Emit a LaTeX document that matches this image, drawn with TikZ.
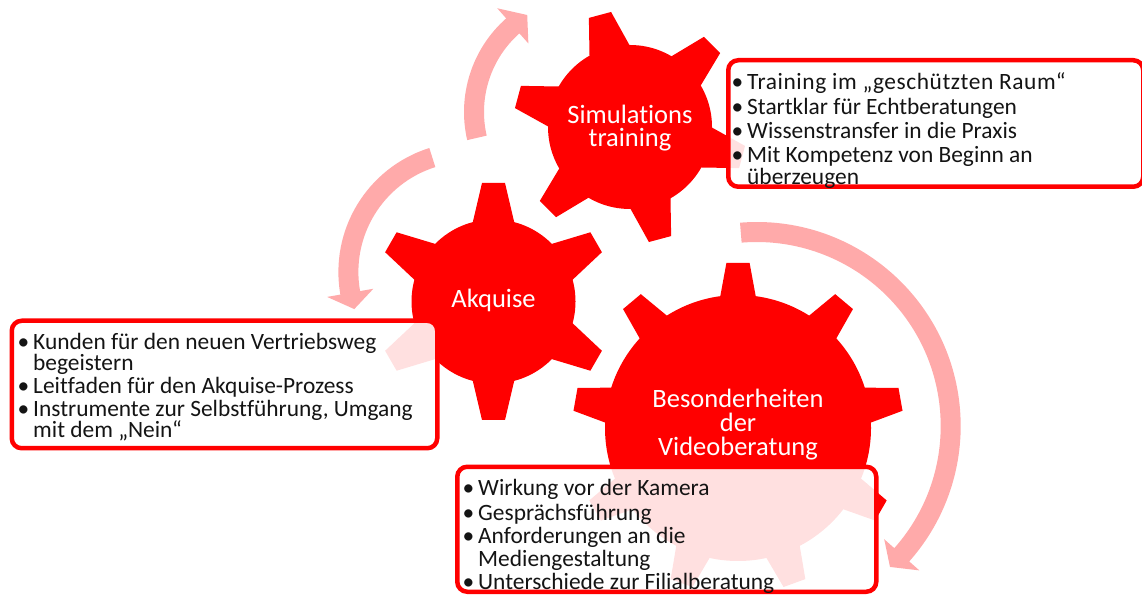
\documentclass[tikz,border=0pt]{standalone}
\usepackage{fontspec}
\setmainfont{Carlito}[Ligatures=NoCommon, Contextuals=NoAlternate]
\usetikzlibrary{calc}
\definecolor{gearred}{RGB}{255,0,0}
\definecolor{arrowpink}{RGB}{255,170,170}
\definecolor{txtcol}{RGB}{20,20,20}
\newcommand{\mybullet}{\makebox[0pt][r]{\textbullet\kern4pt}}
\begin{document}
\begin{tikzpicture}[x=1pt,y=1pt,
  gearfill/.style={fill=gearred},
  infobox/.style={draw=gearred, line width=4.5pt, fill=white, fill opacity=0.88, rounded corners=10pt, inner sep=0pt, anchor=south west},
  bl/.style={anchor=base west, inner sep=0pt, text=txtcol, font=\fontsize{23.4}{24}\selectfont},
  geartext/.style={anchor=base, inner sep=0pt, text=white, font=\fontsize{26.5}{26}\selectfont},
  arrowfill/.style={fill=arrowpink}]
\useasboundingbox (0,0) rectangle (1142,597);

% ---------- circular arrows ----------
\coordinate (ac1) at (589,485);
\coordinate (ac2) at (468.4,325);
\coordinate (ac3) at (756.7,171);
\fill[arrowfill] ($(ac1)+(193:125)$) arc[start angle=193, end angle=131.5, radius=125]
  -- ($(ac1)+(131.5:138.5)$) -- ($(ac1)+(122.5:115)$) -- ($(ac1)+(131.5:91.5)$)
  -- ($(ac1)+(131.5:105)$) arc[start angle=131.5, end angle=193, radius=105] -- cycle;
\fill[arrowfill] ($(ac2)+(107.5:130)$) arc[start angle=107.5, end angle=190, radius=130]
  -- ($(ac2)+(190:143.5)$) -- ($(ac2)+(198:120)$) -- ($(ac2)+(190:96.5)$)
  -- ($(ac2)+(190:110)$) arc[start angle=190, end angle=107.5, radius=110] -- cycle;
\fill[arrowfill] ($(ac3)+(94.7:204)$) arc[start angle=94.7, end angle=-41.6, radius=204]
  -- ($(ac3)+(-41.6:217.5)$) -- ($(ac3)+(-46.6:194)$) -- ($(ac3)+(-41.6:170.5)$)
  -- ($(ac3)+(-41.6:184)$) arc[start angle=-41.6, end angle=94.7, radius=184] -- cycle;

% ---------- gears ----------
\begin{scope}[shift={(630,470)}]
  \fill[gearfill] (0,0) circle (82);
  \foreach \a in {45,105,165,225,285,345}
    \fill[gearfill, rotate=\a] (76,-21.5) -- (116,-11.5) -- (116,11.5) -- (76,21.5) -- cycle;
\end{scope}
\begin{scope}[shift={(493.5,295.5)}]
  \fill[gearfill] (0,0) circle (82);
  \foreach \a in {30,90,150,210,270,330}
    \fill[gearfill, rotate=\a] (76,-21.5) -- (118.5,-11.5) -- (118.5,11.5) -- (76,21.5) -- cycle;
\end{scope}
\begin{scope}[shift={(738,169)}]
  \fill[gearfill] (0,0) circle (133);
  \foreach \a in {10,50,90,130,170,210,250,290,330}
    \fill[gearfill, rotate=\a] (127,-18.6) -- (165,-11.6) -- (165,11.6) -- (127,18.6) -- cycle;
\end{scope}

% ---------- gear labels ----------
\node[geartext] (g1a) at (630,473.7) {Simulations};
\node[geartext] (g1b) at (630,450.3) {training};
\node[geartext] (g2) at (493.5,289.7) {Akquise};
\node[geartext] (g3a) at (738,189) {Besonderheiten};
\node[geartext] (g3b) at (738,165) {der};
\node[geartext] (g3c) at (738,142) {Videoberatung};

% ---------- boxes ----------
\node[infobox, minimum width=415pt, minimum height=126.5pt] (b1) at (726,408) {};
\node[infobox, minimum width=425.5pt, minimum height=127.5pt] (b2) at (9.5,146.5) {};
\node[infobox, minimum width=419pt, minimum height=125pt] (b3) at (455,3) {};

% ---------- box texts ----------
\node[bl] (t1a) at (747,507) {\mybullet\addfontfeature{LetterSpace=2.4}Training im „geschützten Raum“};
\node[bl] (t1b) at (747,482.7) {\mybullet Startklar für Echtberatungen};
\node[bl] (t1c) at (747,458.7) {\mybullet Wissenstransfer in die Praxis};
\node[bl] (t1d) at (747,434) {\mybullet Mit Kompetenz von Beginn an};
\node[bl] (t1e) at (747,412.7) {überzeugen};

\node[bl] (t2a) at (33,247.7) {\mybullet Kunden für den neuen Vertriebsweg};
\node[bl] (t2b) at (33,226.3) {begeistern};
\node[bl] (t2c) at (33,203.7) {\mybullet Leitfaden für den Akquise-Prozess};
\node[bl] (t2d) at (33,180.3) {\mybullet Instrumente zur Selbstführung, Umgang};
\node[bl] (t2e) at (33,159.7) {mit dem „Nein“};

\node[bl] (t3a) at (478,102) {\mybullet Wirkung vor der Kamera};
\node[bl] (t3b) at (478,77) {\mybullet Gesprächsführung};
\node[bl] (t3c) at (478,53.7) {\mybullet Anforderungen an die};
\node[bl] (t3d) at (478,31) {Mediengestaltung};
\node[bl] (t3e) at (478,7.7) {\mybullet Unterschiede zur Filialberatung};
\end{tikzpicture}
\end{document}
